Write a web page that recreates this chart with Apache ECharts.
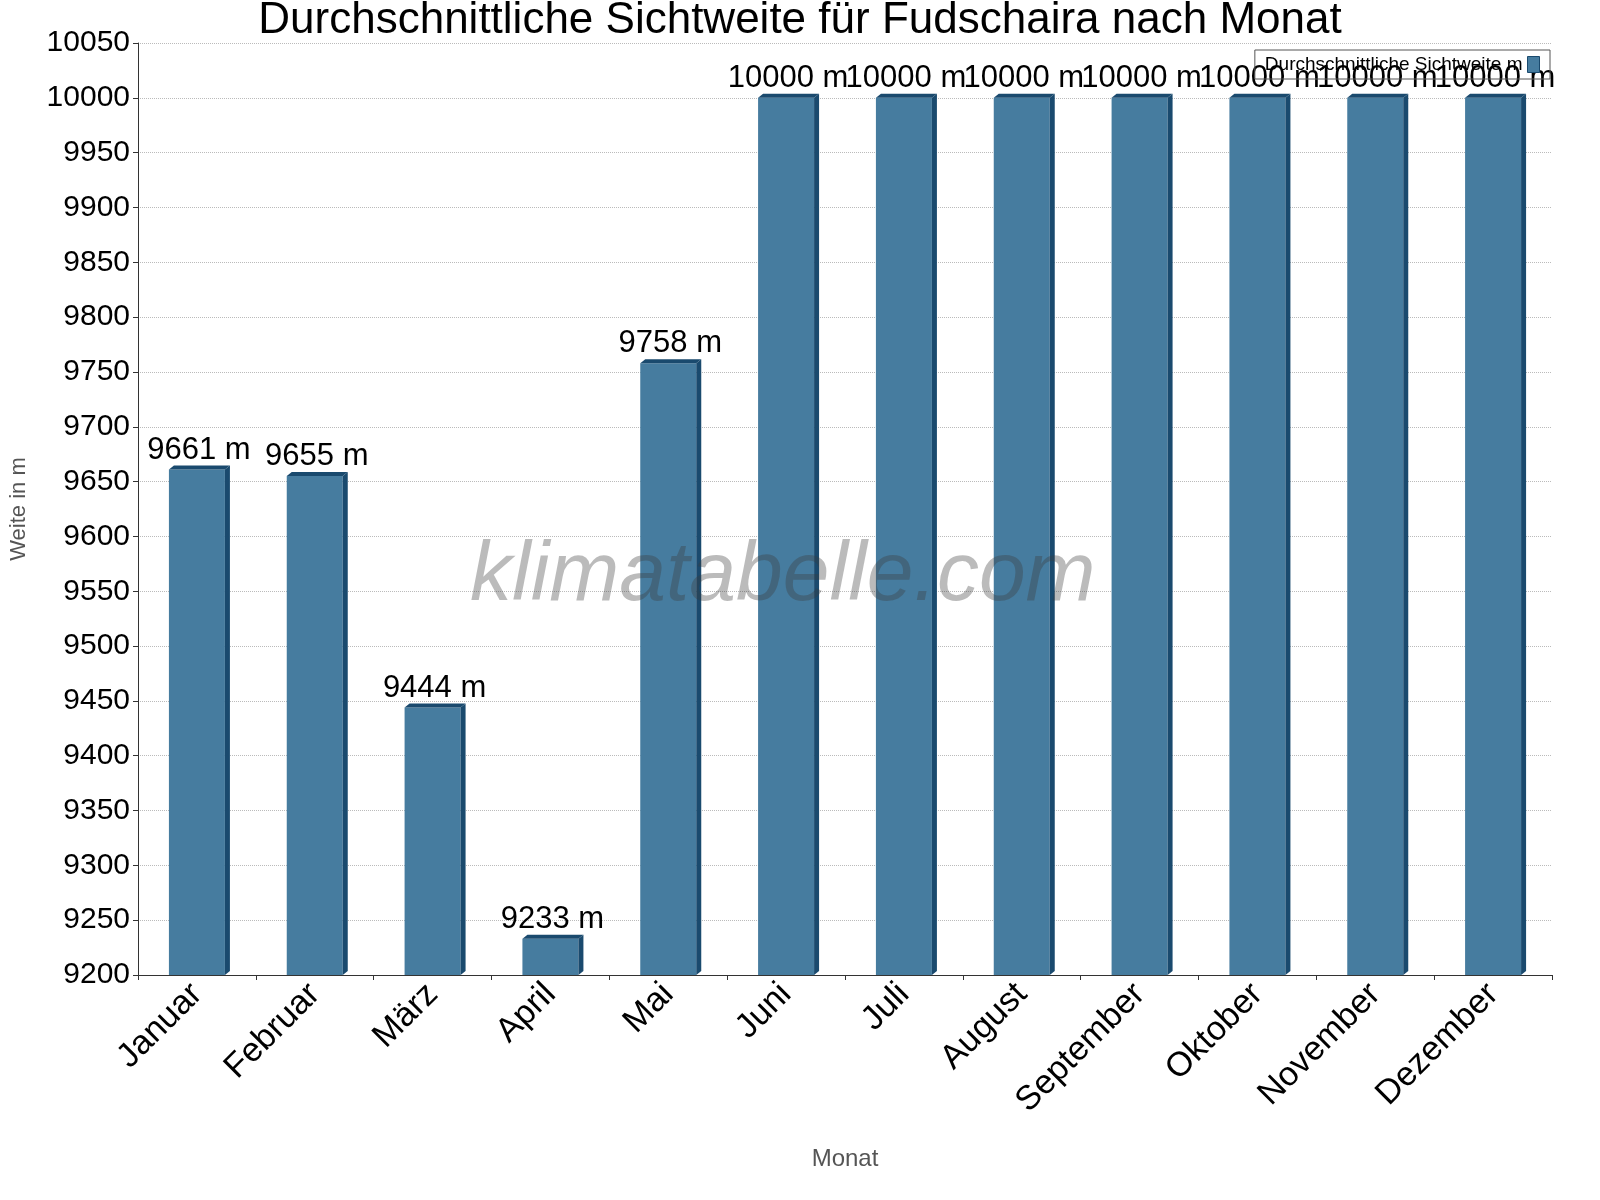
<!DOCTYPE html>
<html><head><meta charset="utf-8">
<script src="https://cdn.jsdelivr.net/npm/echarts@6/dist/echarts.min.js"></script>
<style>html,body{margin:0;padding:0;background:#fff}#c{width:1600px;height:1200px}</style>
</head><body><div id="c"></div>
<script>
const months=['Januar','Februar','März','April','Mai','Juni','Juli','August','September','Oktober','November','Dezember'];
const values=[9661,9655,9444,9233,9758,10000,10000,10000,10000,10000,10000,10000];
const yTicks={min:9200,max:10050,interval:50};
const chart=echarts.init(document.getElementById('c'));
chart.setOption({
 animation:false,
 title:{text:'Durchschnittliche Sichtweite für Fudschaira nach Monat',left:'center',top:-6,textStyle:{fontFamily:'Liberation Sans',fontSize:44,fontWeight:'normal',color:'#000'}},
 legend:{right:50,top:50,itemWidth:12,itemHeight:16,icon:'rect',align:'right',itemGap:10,borderColor:'#555',borderWidth:1,borderRadius:0,padding:[5,10],textStyle:{fontFamily:'Liberation Sans',fontSize:19,color:'#000'},data:[{name:'Durchschnittliche Sichtweite m',itemStyle:{color:'#467c9f',borderColor:'#1a4a6e',borderWidth:1}}]},
 grid:{left:131,right:48,top:43,bottom:225},
 graphic:[{type:'text',left:470,top:535,z:100,style:{text:'klimatabelle.com',font:'italic 84px "Liberation Sans"',fill:'rgba(60,60,60,0.35)'}}],
 xAxis:{type:'category',data:months,name:'Monat',nameLocation:'middle',nameGap:172,nameTextStyle:{fontFamily:'Liberation Sans',fontSize:24,color:'#555'},
  axisLine:{lineStyle:{color:'#333'}},axisTick:{show:true,lineStyle:{color:'#333'}},
  axisLabel:{rotate:45,fontFamily:'Liberation Sans',fontSize:34,color:'#000',margin:14,padding:[0,0,0,0]}},
 yAxis:{type:'value',min:yTicks.min,max:yTicks.max,interval:yTicks.interval,name:'Weite in m',nameLocation:'middle',nameGap:108,nameTextStyle:{fontFamily:'Liberation Sans',fontSize:22,color:'#555'},
  axisLine:{show:true,lineStyle:{color:'#333'}},axisTick:{show:true,lineStyle:{color:'#333'}},
  axisLabel:{fontFamily:'Liberation Sans',fontSize:30,color:'#000',formatter:v=>String(v)},
  splitLine:{lineStyle:{color:'#bbb',type:'dotted'}}},
 series:[{name:'Durchschnittliche Sichtweite m',type:'custom',data:values,
  itemStyle:{color:'#467c9f'},
  renderItem:function(params,api){
   const v=api.value(1), i=api.value(0);
   const top=api.coord([i,v]), base=api.coord([i,yTicks.min]);
   const w=56, d=5, h=4;
   const x0=top[0]-w/2, x1=top[0]+w/2;
   return {type:'group',children:[
    {type:'rect',shape:{x:x0,y:top[1],width:w,height:base[1]-top[1]},style:{fill:'#467c9f'}},
    {type:'polygon',shape:{points:[[x1,top[1]],[x1+d,top[1]-h],[x1+d,base[1]-h],[x1,base[1]]]},style:{fill:'#1a4a6e'}},
    {type:'polygon',shape:{points:[[x0,top[1]],[x0+d,top[1]-h],[x1+d,top[1]-h],[x1,top[1]]]},style:{fill:'#1a4a6e'}},
    {type:'text',z2:10,style:{text:v+' m',x:top[0]+2,y:top[1]-4,textAlign:'center',textVerticalAlign:'bottom',font:'31px "Liberation Sans"',fill:'#000'}}
   ]};
  }}]
});
</script></body></html>
